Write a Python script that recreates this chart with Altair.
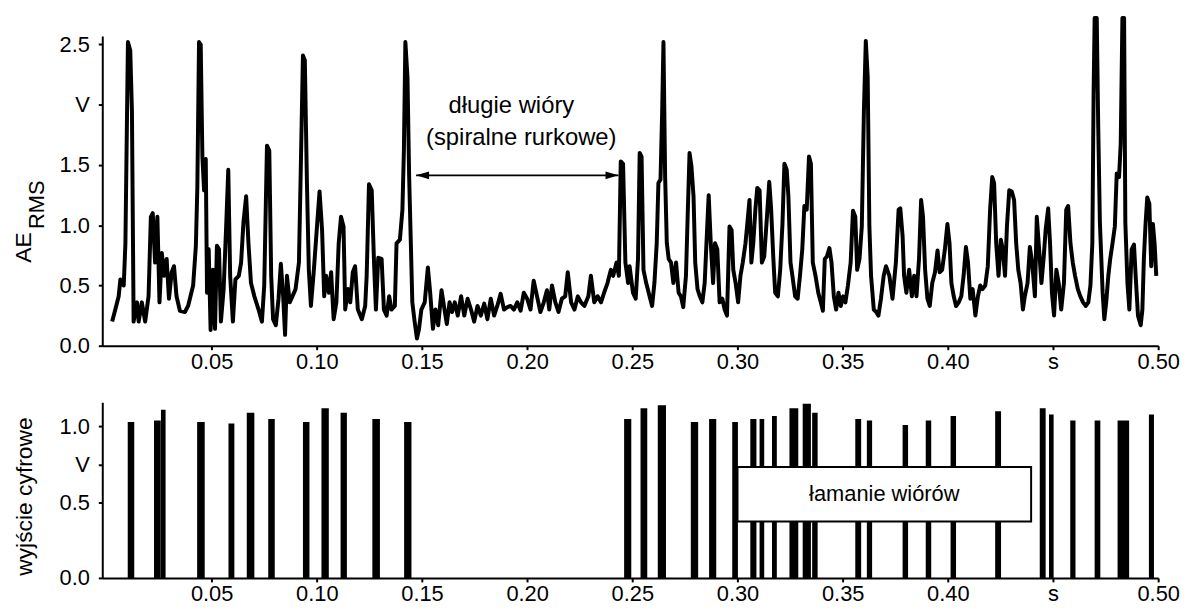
import altair as alt
import pandas as pd

FONT = "Liberation Sans"

# ---------------- AE_RMS signal (top panel), time in s, value in V ----------------
ae_t = [
    0.0027, 0.0042, 0.0058, 0.0066, 0.0082, 0.0090, 0.0102, 0.0113, 0.0121, 0.0129,
    0.0145, 0.0153, 0.0168, 0.0184, 0.0200, 0.0211, 0.0220, 0.0231, 0.0242, 0.0252,
    0.0263, 0.0274, 0.0286, 0.0297, 0.0310, 0.0321, 0.0333, 0.0349, 0.0373, 0.0388,
    0.0412, 0.0425, 0.0432, 0.0440, 0.0448, 0.0456, 0.0464, 0.0472, 0.0478, 0.0486,
    0.0495, 0.0506, 0.0516, 0.0525, 0.0535, 0.0544, 0.0557, 0.0569, 0.0579, 0.0588,
    0.0601, 0.0613, 0.0629, 0.0640, 0.0651, 0.0664, 0.0675, 0.0687, 0.0703, 0.0723,
    0.0739, 0.0750, 0.0763, 0.0774, 0.0783, 0.0792, 0.0805, 0.0818, 0.0829, 0.0840,
    0.0849, 0.0858, 0.0871, 0.0884, 0.0899, 0.0915, 0.0923, 0.0934, 0.0943, 0.0953,
    0.0962, 0.0972, 0.0986, 0.1002, 0.1013, 0.1025, 0.1035, 0.1044, 0.1057, 0.1068,
    0.1080, 0.1093, 0.1104, 0.1115, 0.1127, 0.1135, 0.1148, 0.1159, 0.1171, 0.1182,
    0.1195, 0.1214, 0.1230,
    0.1237, 0.1248, 0.1261, 0.1272, 0.1281, 0.1292, 0.1308, 0.1319, 0.1332, 0.1344,
    0.1355, 0.1371, 0.1379, 0.1395, 0.1407, 0.1414, 0.1421, 0.1431, 0.1439, 0.1447,
    0.1454, 0.1465, 0.1476, 0.1486, 0.1497, 0.1513, 0.1528, 0.1539, 0.1552, 0.1564,
    0.1577, 0.1593, 0.1607, 0.1618, 0.1631, 0.1643, 0.1656, 0.1670, 0.1686, 0.1701,
    0.1717, 0.1733, 0.1748, 0.1764, 0.1780, 0.1796, 0.1811, 0.1827, 0.1843, 0.1858,
    0.1874, 0.1890, 0.1906, 0.1921, 0.1937, 0.1953, 0.1969, 0.1984, 0.2000, 0.2016,
    0.2031, 0.2047, 0.2063, 0.2079, 0.2094, 0.2105, 0.2118, 0.2134, 0.2149, 0.2165,
    0.2181, 0.2193, 0.2209, 0.2225, 0.2241, 0.2256, 0.2272, 0.2291, 0.2303, 0.2319,
    0.2335, 0.2351, 0.2366, 0.2382, 0.2398, 0.2409, 0.2425, 0.2436, 0.2445, 0.2456,
    0.2467, 0.2480,
    0.2487, 0.2503, 0.2516, 0.2527, 0.2535, 0.2544, 0.2553, 0.2566, 0.2582, 0.2594,
    0.2605, 0.2616, 0.2624, 0.2634, 0.2642, 0.2648, 0.2656, 0.2664, 0.2673, 0.2684,
    0.2695, 0.2708, 0.2720, 0.2731, 0.2742, 0.2755, 0.2764, 0.2772, 0.2781, 0.2791,
    0.2799, 0.2810, 0.2821, 0.2833, 0.2844, 0.2854, 0.2863, 0.2873, 0.2884, 0.2893,
    0.2904, 0.2915, 0.2928, 0.2939, 0.2950, 0.2962, 0.2972, 0.2980, 0.2991, 0.3003,
    0.3014, 0.3025, 0.3038, 0.3047, 0.3057, 0.3066, 0.3075, 0.3085, 0.3094, 0.3105,
    0.3116, 0.3127, 0.3140, 0.3151, 0.3160, 0.3170, 0.3179, 0.3192, 0.3203, 0.3214,
    0.3223, 0.3234, 0.3242, 0.3252, 0.3261, 0.3274, 0.3286, 0.3297, 0.3308, 0.3318,
    0.3329, 0.3340, 0.3349, 0.3358, 0.3371, 0.3384, 0.3396, 0.3406, 0.3415, 0.3425,
    0.3437, 0.3447, 0.3458, 0.3469, 0.3480, 0.3491, 0.3502, 0.3513, 0.3525, 0.3538,
    0.3549, 0.3560, 0.3569, 0.3580, 0.3591, 0.3601, 0.3610, 0.3619, 0.3627, 0.3635,
    0.3648, 0.3659, 0.3670, 0.3682, 0.3695, 0.3706, 0.3722,
    0.3737, 0.3753, 0.3766, 0.3774, 0.3785, 0.3792, 0.3803, 0.3816, 0.3829, 0.3840,
    0.3851, 0.3863, 0.3873, 0.3882, 0.3892, 0.3903, 0.3914, 0.3926, 0.3939, 0.3951,
    0.3961, 0.3973, 0.3986, 0.3998, 0.4008, 0.4017, 0.4028, 0.4039, 0.4052, 0.4064,
    0.4075, 0.4086, 0.4096, 0.4107, 0.4118, 0.4131, 0.4143, 0.4154, 0.4165, 0.4178,
    0.4190, 0.4201, 0.4211, 0.4220, 0.4230, 0.4241, 0.4252, 0.4261, 0.4272, 0.4281,
    0.4292, 0.4304, 0.4315, 0.4325, 0.4335, 0.4346, 0.4357, 0.4366, 0.4379, 0.4390,
    0.4401, 0.4414, 0.4423, 0.4432, 0.4445, 0.4456, 0.4465, 0.4477, 0.4486, 0.4495,
    0.4505, 0.4516, 0.4527, 0.4539, 0.4552, 0.4563, 0.4572, 0.4583, 0.4594, 0.4605,
    0.4618, 0.4630, 0.4643, 0.4656, 0.4668, 0.4678, 0.4687, 0.4693, 0.4698, 0.4708,
    0.4715, 0.4723, 0.4736, 0.4744, 0.4753, 0.4763, 0.4772, 0.4783, 0.4794, 0.4803,
    0.4814, 0.4822, 0.4830, 0.4838, 0.4844, 0.4854, 0.4863, 0.4874, 0.4885, 0.4893,
    0.4904, 0.4917, 0.4925, 0.4932, 0.4940, 0.4948, 0.4958, 0.4967, 0.4975, 0.4983,
    0.4991,
]
ae_v = [
    0.20, 0.30, 0.41, 0.55, 0.50, 0.85, 2.52, 2.45, 1.95, 0.20,
    0.36, 0.20, 0.36, 0.20, 0.41, 1.07, 1.10, 0.69, 1.07, 0.36,
    0.77, 0.58, 0.72, 0.39, 0.61, 0.66, 0.41, 0.29, 0.28, 0.33,
    0.50, 0.83, 1.32, 2.52, 2.50, 1.57, 1.29, 1.55, 0.44, 0.80,
    0.13, 0.63, 0.14, 0.83, 0.80, 0.20, 0.47, 0.99, 1.46, 0.58,
    0.20, 0.55, 0.58, 0.69, 1.02, 1.24, 0.85, 0.52, 0.41, 0.30,
    0.20, 0.50, 1.66, 1.62, 0.58, 0.22, 0.17, 0.39, 0.68, 0.41,
    0.09, 0.58, 0.36, 0.41, 0.47, 0.69, 1.40, 2.41, 2.37, 1.35,
    0.63, 0.33, 0.63, 1.02, 1.28, 0.96, 0.41, 0.58, 0.44, 0.61,
    0.22, 0.36, 0.85, 1.07, 0.99, 0.30, 0.47, 0.36, 0.61, 0.66,
    0.30, 0.22, 0.33,
    0.58, 1.34, 1.29, 0.69, 0.30, 0.73, 0.72, 0.30, 0.25, 0.41,
    0.30, 0.33, 0.85, 0.88, 1.13, 1.62, 2.52, 2.23, 1.40, 0.85,
    0.36, 0.20, 0.06, 0.14, 0.30, 0.36, 0.65, 0.44, 0.14, 0.30,
    0.17, 0.46, 0.30, 0.18, 0.36, 0.28, 0.36, 0.25, 0.41, 0.25,
    0.39, 0.30, 0.20, 0.33, 0.25, 0.35, 0.22, 0.39, 0.25, 0.33,
    0.43, 0.30, 0.32, 0.33, 0.30, 0.36, 0.29, 0.44, 0.39, 0.30,
    0.54, 0.41, 0.28, 0.36, 0.46, 0.30, 0.50, 0.36, 0.28, 0.39,
    0.41, 0.61, 0.36, 0.30, 0.41, 0.36, 0.33, 0.41, 0.58, 0.36,
    0.41, 0.36, 0.44, 0.52, 0.63, 0.58, 0.69, 0.58, 1.53, 1.51,
    0.69, 0.52,
    0.66, 0.44, 0.39, 0.72, 1.60, 1.57, 0.63, 0.52, 0.41, 0.33,
    0.52, 0.85, 1.35, 1.38, 1.95, 2.52, 1.40, 0.85, 0.72, 0.69,
    0.52, 0.69, 0.44, 0.41, 0.32, 0.58, 1.13, 1.60, 1.49, 1.24,
    0.69, 0.47, 0.41, 0.36, 0.52, 0.91, 1.25, 0.85, 0.52, 0.85,
    0.80, 0.36, 0.39, 0.30, 0.25, 0.99, 0.96, 0.63, 0.52, 0.36,
    0.58, 0.69, 0.85, 1.02, 1.21, 0.69, 0.85, 1.13, 1.31, 1.29,
    0.69, 0.74, 1.07, 1.36, 1.13, 0.74, 0.44, 0.41, 0.63, 1.02,
    1.51, 1.46, 1.24, 0.69, 0.58, 0.41, 0.39, 0.58, 0.80, 1.16,
    1.13, 1.57, 1.51, 0.69, 0.58, 0.44, 0.36, 0.29, 0.72, 0.74,
    0.81, 0.69, 0.41, 0.30, 0.44, 0.33, 0.41, 0.36, 0.50, 0.69,
    1.12, 1.07, 0.63, 0.72, 0.99, 1.95, 2.53, 2.23, 0.99, 0.58,
    0.30, 0.28, 0.25, 0.39, 0.58, 0.66, 0.58,
    0.39, 0.69, 1.13, 1.14, 0.91, 0.58, 0.44, 0.63, 0.41, 0.58,
    0.41, 0.72, 1.21, 1.07, 0.63, 0.39, 0.33, 0.52, 0.61, 0.79,
    0.61, 0.63, 0.80, 1.01, 0.85, 0.52, 0.41, 0.33, 0.36, 0.41,
    0.58, 0.82, 0.69, 0.39, 0.47, 0.25, 0.41, 0.50, 0.47, 0.50,
    0.66, 1.13, 1.40, 1.35, 0.85, 0.58, 0.88, 0.80, 0.58, 0.99,
    1.29, 1.28, 1.21, 0.85, 0.63, 0.52, 0.30, 0.41, 0.52, 0.82,
    0.69, 0.41, 1.07, 0.85, 0.52, 0.74, 0.96, 1.14, 0.85, 0.44,
    0.25, 0.63, 0.52, 0.30, 0.52, 1.13, 1.16, 0.85, 0.69, 0.58,
    0.47, 0.41, 0.36, 0.33, 0.36, 0.50, 0.85, 2.09, 2.72, 2.72,
    1.82, 1.02, 0.44, 0.22, 0.36, 0.58, 0.72, 0.85, 0.99, 1.43,
    1.40, 1.68, 2.72, 2.72, 1.02, 0.52, 0.30, 0.80, 0.84, 0.58,
    0.25, 0.17, 0.30, 0.72, 1.01, 1.23, 1.18, 0.66, 1.01, 0.85,
    0.58,
]

# ---------------- digital output pulses (bottom panel) ----------------
pulse_start = [
    0.0101, 0.0226, 0.0259, 0.0431, 0.0580, 0.0667, 0.0769, 0.0934, 0.1022, 0.1113, 0.1264, 0.1415,
    0.2461, 0.2539, 0.2621, 0.2778, 0.2865, 0.2975, 0.3061, 0.3105, 0.3164, 0.3247, 0.3310, 0.3355,
    0.3560, 0.3615, 0.3785, 0.3895, 0.4013, 0.4225, 0.4437, 0.4481, 0.4582, 0.4698, 0.4807, 0.4956,
]
pulse_end = [
    0.0132, 0.0258, 0.0281, 0.0467, 0.0608, 0.0703, 0.0800, 0.0965, 0.1057, 0.1143, 0.1300, 0.1450,
    0.2495, 0.2571, 0.2660, 0.2813, 0.2899, 0.3002, 0.3090, 0.3127, 0.3187, 0.3289, 0.3349, 0.3381,
    0.3588, 0.3640, 0.3811, 0.3921, 0.4039, 0.4253, 0.4465, 0.4503, 0.4607, 0.4725, 0.4862, 0.4980,
]
pulse_height = [
    1.03, 1.04, 1.11, 1.03, 1.02, 1.09, 1.05, 1.03, 1.12, 1.09, 1.05, 1.03,
    1.05, 1.12, 1.14, 1.03, 1.05, 1.03, 1.05, 1.05, 1.07, 1.12, 1.15, 1.09,
    1.05, 1.04, 1.01, 1.04, 1.07, 1.10, 1.12, 1.08, 1.04, 1.04, 1.04, 1.08,
]

# ---------------- axes / annotations ----------------
x_ticks = [0.05, 0.10, 0.15, 0.20, 0.25, 0.30, 0.35, 0.40, 0.45, 0.50]
top_y_ticks = [0.0, 0.5, 1.0, 1.5, 2.0, 2.5]
bot_y_ticks = [0.0, 0.5, 0.75, 1.0]

ann_labels = ["długie wióry", "(spiralne rurkowe)"]
ann_t = [0.1925, 0.1972]
ann_v = [1.99, 1.727]
arrow_t = [0.1472, 0.2434]
arrow_v = [1.414, 1.414]
head_t = [0.1503, 0.2403]
head_shape = ["M-1,0L1,-0.6L1,0.6Z", "M1,0L-1,-0.6L-1,0.6Z"]

box_t = [0.300, 0.4396]
box_v = [0.373, 0.732]
box_label = ["łamanie wiórów"]
box_label_t = [0.3698]
box_label_v = [0.552]

# ---------------- build ----------------
ae = pd.DataFrame({"t": ae_t, "v": ae_v})
pulses = pd.DataFrame({"s": pulse_start, "e": pulse_end, "h": pulse_height})
ann = pd.DataFrame({"label": ann_labels, "t": ann_t, "v": ann_v})
arrow = pd.DataFrame({"t": [arrow_t[0]], "t2": [arrow_t[1]], "v": [arrow_v[0]]})
heads = pd.DataFrame({"t": head_t, "v": arrow_v, "shape": head_shape})
box = pd.DataFrame({"t": [box_t[0]], "t2": [box_t[1]], "v": [box_v[0]], "v2": [box_v[1]]})
box_txt = pd.DataFrame({"label": box_label, "t": box_label_t, "v": box_label_v})

x_expr = "abs(datum.value - 0.45) < 0.001 ? 's' : format(datum.value, '.2f')"
xscale = alt.Scale(domain=[-0.002, 0.5], nice=False, zero=False)


def xaxis(pad):
    return alt.Axis(values=x_ticks, labelExpr=x_expr, title=None, tickSize=4,
                    labelPadding=pad, labelFlush=False)


top_yscale = alt.Scale(domain=[0, 2.57], nice=False)
top_yaxis = alt.Axis(values=top_y_ticks,
                     labelExpr="datum.value == 2 ? 'V' : format(datum.value, '.1f')",
                     title=None, tickSize=4, labelPadding=9)

line = alt.Chart(ae).mark_line(color="black", strokeWidth=4, strokeJoin="round").encode(
    x=alt.X("t:Q", scale=xscale, axis=xaxis(2)),
    y=alt.Y("v:Q", scale=top_yscale, axis=top_yaxis),
)
arrow_rule = alt.Chart(arrow).mark_rule(color="black", strokeWidth=1.6).encode(
    x="t:Q", x2="t2:Q", y="v:Q"
)
arrow_heads = alt.Chart(heads).mark_point(filled=True, color="black", size=169, opacity=1).encode(
    x="t:Q", y="v:Q", shape=alt.Shape("shape:N", scale=None)
)
ann_text = alt.Chart(ann).mark_text(font=FONT, fontSize=24, color="black").encode(
    x="t:Q", y="v:Q", text="label:N"
)
title_ae = alt.Chart(pd.DataFrame({"label": ["AE"]})).mark_text(
    font=FONT, fontSize=23, color="black", angle=270, baseline="middle", align="center"
).encode(x=alt.value(-79), y=alt.value(213), text="label:N")
title_rms = alt.Chart(pd.DataFrame({"label": ["RMS"]})).mark_text(
    font=FONT, fontSize=22, color="black", angle=270, baseline="middle", align="center"
).encode(x=alt.value(-66), y=alt.value(170), text="label:N")

top = alt.layer(line, arrow_rule, arrow_heads, ann_text, title_ae, title_rms).properties(
    width=1064, height=312
)

bot_yscale = alt.Scale(domain=[0, 1.16], nice=False)
bot_yaxis = alt.Axis(values=bot_y_ticks,
                     labelExpr="datum.value == 0.75 ? 'V' : format(datum.value, '.1f')",
                     title=None, tickSize=4, labelPadding=9)

bars = alt.Chart(pulses).mark_rect(color="black").transform_calculate(base="0").encode(
    x=alt.X("s:Q", scale=xscale, axis=xaxis(2)),
    x2="e:Q",
    y=alt.Y("base:Q", scale=bot_yscale, axis=bot_yaxis),
    y2="h:Q",
)
box_rect = alt.Chart(box).mark_rect(fill="white", stroke="black", strokeWidth=2).encode(
    x="t:Q", x2="t2:Q", y="v:Q", y2="v2:Q"
)
box_text = alt.Chart(box_txt).mark_text(font=FONT, fontSize=22, color="black").encode(
    x="t:Q", y="v:Q", text="label:N"
)
title_bot = alt.Chart(pd.DataFrame({"label": ["wyjście cyfrowe"]})).mark_text(
    font=FONT, fontSize=23, color="black", angle=270, baseline="middle", align="center"
).encode(x=alt.value(-78), y=alt.value(95), text="label:N")

bottom = alt.layer(bars, box_rect, box_text, title_bot).properties(width=1064, height=177)

chart = (
    alt.vconcat(top, bottom, spacing=30)
    .resolve_scale(x="independent", y="independent")
    .properties(padding={"left": 5, "top": 5, "right": 0, "bottom": 0})
    .configure_view(stroke=None)
    .configure_axis(
        grid=False, labelFont=FONT, labelFontSize=22, labelColor="black",
        domainColor="black", domainWidth=2, tickColor="black", tickWidth=2,
    )
)

chart.save("out.html", embed_options={"renderer": "svg", "actions": False})
